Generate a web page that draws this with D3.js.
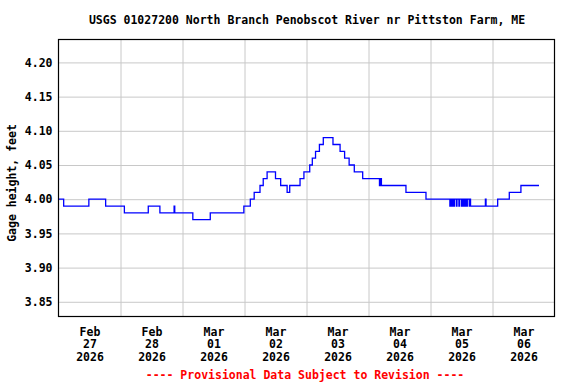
<!DOCTYPE html>
<html>
<head>
<meta charset="utf-8">
<script src="https://cdn.jsdelivr.net/npm/d3@7"></script>
<style>
  html, body { margin: 0; padding: 0; background: #ffffff; }
  svg { display: block; }
  text { font-family: "DejaVu Sans Mono", "Liberation Mono", monospace; font-weight: bold; }
</style>
</head>
<body>
<svg id="chart" width="576" height="384"></svg>
<script>
// ---- Data ----
const title = "USGS 01027200 North Branch Penobscot River nr Pittston Farm, ME";
const yLabel = "Gage height, feet";
const footer = "---- Provisional Data Subject to Revision ----";

const yTicks = [3.85, 3.90, 3.95, 4.00, 4.05, 4.10, 4.15, 4.20];
const dayTicks = ["2026-02-27", "2026-02-28", "2026-03-01", "2026-03-02",
                  "2026-03-03", "2026-03-04", "2026-03-05", "2026-03-06"];
const dayLabels = [["Feb", "27", "2026"], ["Feb", "28", "2026"], ["Mar", "01", "2026"], ["Mar", "02", "2026"],
                   ["Mar", "03", "2026"], ["Mar", "04", "2026"], ["Mar", "05", "2026"], ["Mar", "06", "2026"]];

// Gage height change points (step series, value holds until next time)
const times = [
  "2026-02-27T00:00", "2026-02-27T02:00", "2026-02-27T11:45", "2026-02-27T18:15",
  "2026-02-28T01:30", "2026-02-28T10:45", "2026-02-28T15:15", "2026-02-28T20:45", "2026-02-28T21:00",
  "2026-03-01T04:00", "2026-03-01T10:45", "2026-03-01T23:45",
  "2026-03-02T02:15", "2026-03-02T03:45", "2026-03-02T06:00", "2026-03-02T07:15", "2026-03-02T08:45",
  "2026-03-02T12:00", "2026-03-02T14:00", "2026-03-02T16:30", "2026-03-02T17:30", "2026-03-02T21:30",
  "2026-03-02T23:00",
  "2026-03-03T01:15", "2026-03-03T02:15", "2026-03-03T03:30", "2026-03-03T05:00", "2026-03-03T06:30",
  "2026-03-03T10:15", "2026-03-03T13:00", "2026-03-03T14:45", "2026-03-03T16:30", "2026-03-03T18:30",
  "2026-03-03T21:45",
  "2026-03-04T04:15", "2026-03-04T04:45", "2026-03-04T05:00", "2026-03-04T14:30", "2026-03-04T22:15",
  "2026-03-05T07:30", "2026-03-05T07:45", "2026-03-05T08:00", "2026-03-05T08:15", "2026-03-05T08:30",
  "2026-03-05T08:45", "2026-03-05T09:00", "2026-03-05T09:15", "2026-03-05T10:00", "2026-03-05T10:15",
  "2026-03-05T11:00", "2026-03-05T11:15", "2026-03-05T12:00", "2026-03-05T12:15", "2026-03-05T12:30",
  "2026-03-05T12:45", "2026-03-05T13:00", "2026-03-05T13:15", "2026-03-05T13:30", "2026-03-05T13:45",
  "2026-03-05T14:00", "2026-03-05T14:15", "2026-03-05T15:00", "2026-03-05T15:15", "2026-03-05T15:30",
  "2026-03-05T21:15", "2026-03-05T21:30",
  "2026-03-06T02:00", "2026-03-06T06:30", "2026-03-06T11:00", "2026-03-06T18:00"
];
const values = [
  4.00, 3.99, 4.00, 3.99,
  3.98, 3.99, 3.98, 3.99, 3.98,
  3.97, 3.98, 3.99,
  4.00, 4.01, 4.02, 4.03, 4.04,
  4.03, 4.02, 4.01, 4.02, 4.03,
  4.04,
  4.05, 4.06, 4.07, 4.08, 4.09,
  4.08, 4.07, 4.06, 4.05, 4.04,
  4.03,
  4.02, 4.03, 4.02, 4.01, 4.00,
  3.99, 4.00, 3.99, 4.00, 3.99,
  4.00, 3.99, 4.00, 3.99, 4.00,
  3.99, 4.00, 3.99, 4.00, 3.99,
  4.00, 3.99, 4.00, 3.99, 4.00,
  3.99, 4.00, 3.99, 4.00, 3.99,
  4.00, 3.99,
  4.00, 4.01, 4.02, 4.02
];

// ---- Layout ----
const mLeft = 58.5, mRight = 554.5, mTop = 39.5, mBottom = 316.5;
const parse = d3.utcParse("%Y-%m-%dT%H:%M");
const parseDay = d3.utcParse("%Y-%m-%d");
const data = times.map((t, i) => ({ t: parse(t), v: values[i] }));

const x = d3.scaleUtc()
  .domain([parseDay("2026-02-27"), parseDay("2026-03-07")])
  .range([mLeft, mRight]);
const y = d3.scaleLinear()
  .domain([3.8285, 4.2335])
  .range([mBottom, mTop]);

const svg = d3.select("#chart");

// Title
svg.append("text")
  .attr("x", 307).attr("y", 24)
  .attr("text-anchor", "middle")
  .attr("font-size", 11.5)
  .attr("fill", "#000")
  .text(title);

// Horizontal gridlines
const yAxis = d3.axisLeft(y).tickValues(yTicks).tickFormat(d3.format(".2f"))
  .tickSize(-(mRight - mLeft)).tickPadding(6);
const gy = svg.append("g").attr("transform", `translate(${mLeft},0)`).call(yAxis);
gy.select(".domain").remove();
gy.selectAll(".tick line").attr("stroke", "#c8c8c8").attr("stroke-width", 1);
gy.selectAll(".tick text")
  .attr("font-family", "DejaVu Sans Mono, monospace")
  .attr("font-weight", "bold")
  .attr("font-size", 11.5)
  .attr("fill", "#000");

// Vertical gridlines (midnight of each day)
const gridDays = dayTicks.slice(1).map(parseDay);
const xGrid = d3.axisBottom(x).tickValues(gridDays).tickSize(-(mBottom - mTop)).tickFormat("");
const gx = svg.append("g").attr("transform", `translate(0,${mBottom})`).call(xGrid);
gx.select(".domain").remove();
gx.selectAll(".tick line").attr("stroke", "#c8c8c8").attr("stroke-width", 1);

// Day labels centred at noon
const noon = dayTicks.map(d => d3.utcHour.offset(parseDay(d), 12));
const xLab = d3.axisBottom(x).tickValues(noon).tickSize(0).tickFormat("");
const gl = svg.append("g").attr("transform", `translate(0,${mBottom})`).call(xLab);
gl.select(".domain").remove();
gl.selectAll(".tick").each(function(d, i) {
  const t = d3.select(this).append("text")
    .attr("text-anchor", "middle")
    .attr("font-family", "DejaVu Sans Mono, monospace")
    .attr("font-weight", "bold")
    .attr("font-size", 11.5)
    .attr("fill", "#000");
  dayLabels[i].forEach((s, k) => {
    t.append("tspan").attr("x", 0).attr("y", 19 + k * 12.6).text(s);
  });
});

// Data line
const line = d3.line()
  .x(d => x(d.t))
  .y(d => y(d.v))
  .curve(d3.curveStepAfter);
svg.append("path")
  .datum(data)
  .attr("fill", "none")
  .attr("stroke", "#0000ff")
  .attr("stroke-width", 1.3)
  .attr("d", line);

// Frame
svg.append("rect")
  .attr("x", mLeft).attr("y", mTop)
  .attr("width", mRight - mLeft).attr("height", mBottom - mTop)
  .attr("fill", "none").attr("stroke", "#000").attr("stroke-width", 1.2);

// Y label
svg.append("text")
  .attr("transform", `translate(16,183) rotate(-90)`)
  .attr("text-anchor", "middle")
  .attr("font-size", 11.5)
  .attr("fill", "#000")
  .text(yLabel);

// Footer
svg.append("text")
  .attr("x", 305).attr("y", 379)
  .attr("text-anchor", "middle")
  .attr("font-size", 11.5)
  .attr("fill", "#ff0000")
  .text(footer);
</script>
</body>
</html>
